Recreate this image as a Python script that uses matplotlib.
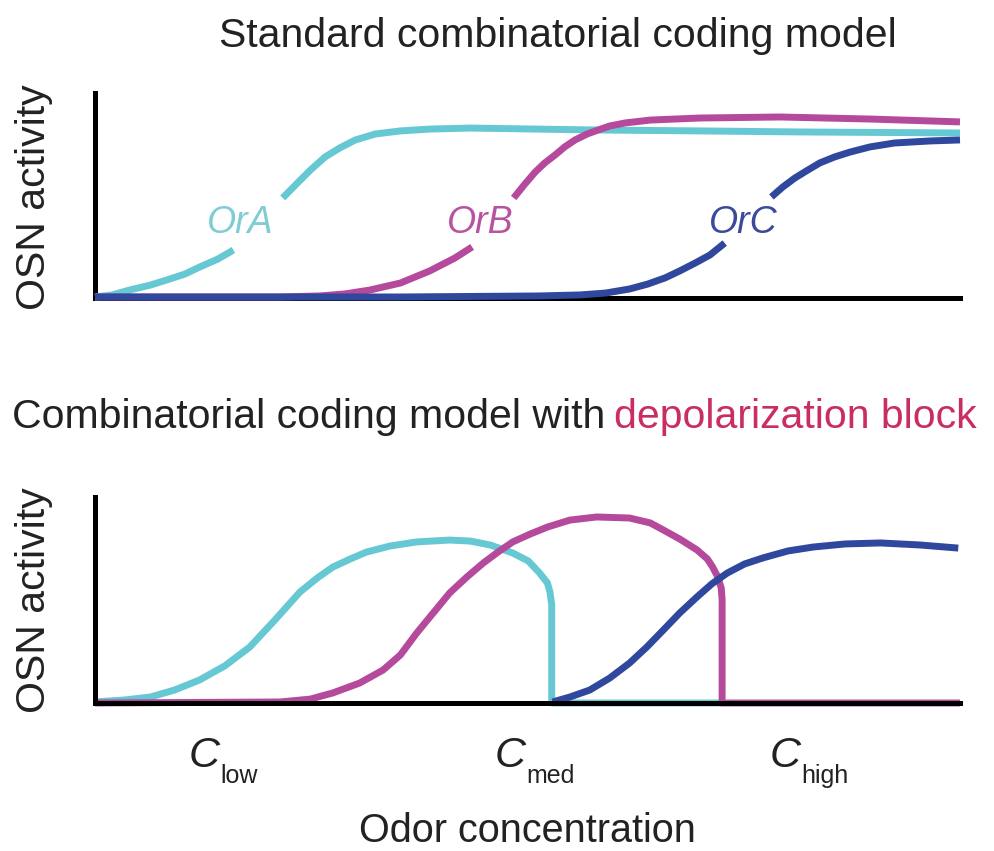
import matplotlib.pyplot as plt
import matplotlib.transforms as mtransforms
import numpy as np

plt.rcParams['font.family'] = ['Liberation Sans', 'DejaVu Sans']

# odor concentration runs 0..10, OSN activity 0..1
# nan = gap in the curve where the receptor label sits
# top panel, standard model
xa_top = [0, 0.20, 0.40, 0.64, 0.83, 1.04, 1.21, 1.42, 1.60, np.nan,
          2.17, 2.34, 2.49, 2.66, 2.83, 3.01, 3.24, 3.53, 3.87, 4.34, 5.72, 6.99, 8.15, 10.0]
ya_top = [0.005, 0.015, 0.039, 0.063, 0.088, 0.117, 0.151, 0.190, 0.234, np.nan,
          0.488, 0.561, 0.624, 0.688, 0.732, 0.771, 0.800, 0.815, 0.824, 0.829, 0.820, 0.815, 0.810, 0.805]

xb_top = [0, 2.14, 2.60, 2.89, 3.18, 3.53, 3.87, 4.16, 4.36, np.nan,
          4.84, 4.97, 5.09, 5.20, 5.32, 5.43, 5.55, 5.69, 5.82, 5.95, 6.13, 6.42, 6.99, 7.92, 8.96, 10.0]
yb_top = [0.005, 0.005, 0.010, 0.020, 0.039, 0.073, 0.132, 0.195, 0.249, np.nan,
          0.488, 0.556, 0.615, 0.659, 0.698, 0.737, 0.771, 0.800, 0.820, 0.839, 0.854, 0.868, 0.878, 0.883, 0.873, 0.859]

xc_top = [0, 3.53, 5.14, 5.61, 5.90, 6.18, 6.39, 6.59, 6.76, 6.94, 7.11, 7.28, np.nan,
          7.82, 7.95, 8.09, 8.24, 8.38, 8.55, 8.73, 8.96, 9.24, 9.65, 10.0]
yc_top = [0.005, 0.005, 0.010, 0.015, 0.024, 0.044, 0.068, 0.098, 0.132, 0.171, 0.210, 0.268, np.nan,
          0.493, 0.541, 0.585, 0.624, 0.659, 0.688, 0.712, 0.737, 0.756, 0.766, 0.771]

# bottom panel, with depolarization block
xa_bot = [0, 0.35, 0.64, 0.92, 1.21, 1.50, 1.79, 2.08, 2.37, 2.57, 2.75, 2.95, 3.14, 3.41, 3.72,
          4.10, 4.34, 4.57, 4.83, 5.01, 5.14, 5.23, 5.26, 5.28, 5.28, 7.25]
ya_bot = [0.005, 0.015, 0.029, 0.063, 0.112, 0.180, 0.272, 0.403, 0.539, 0.607, 0.660, 0.699, 0.733, 0.762, 0.782,
          0.791, 0.786, 0.767, 0.728, 0.689, 0.631, 0.583, 0.539, 0.476, 0.0, 0.0]

xb_bot = [0, 2.14, 2.49, 2.75, 3.06, 3.33, 3.53, 3.72, 3.91, 4.10, 4.30, 4.49, 4.66, 4.83, 5.03, 5.23,
          5.49, 5.80, 6.18, 6.42, 6.57, 6.76, 6.96, 7.08, 7.14, 7.20, 7.24, 7.25, 7.25, 10.0]
yb_bot = [0, 0.005, 0.019, 0.049, 0.097, 0.160, 0.233, 0.340, 0.437, 0.534, 0.612, 0.680, 0.733, 0.782, 0.820, 0.854,
          0.888, 0.903, 0.898, 0.874, 0.840, 0.796, 0.743, 0.699, 0.660, 0.612, 0.558, 0.500, 0.0, 0.0]

xc_bot = [5.29, 5.49, 5.72, 5.95, 6.18, 6.38, 6.57, 6.76, 6.96, 7.13, 7.31, 7.51, 7.72, 8.01, 8.30, 8.67, 9.08, 9.54, 9.98]
yc_bot = [0.005, 0.029, 0.063, 0.121, 0.194, 0.272, 0.354, 0.437, 0.515, 0.578, 0.631, 0.675, 0.704, 0.738, 0.757, 0.772, 0.777, 0.767, 0.752]

receptors = ['OrA', 'OrB', 'OrC']
label_x = [1.68, 4.45, 7.50]
label_y = 0.366

c_levels = ['low', 'med', 'high']
c_pos = [1.08, 4.62, 7.80]

cols = ['#66c8d3', '#b54a9d', '#30479e']
label_cols = ['#80ccd5', '#b7549e', '#3b4a9a']
pink = '#c92d62'

fig = plt.figure(figsize=(9.95, 8.51), dpi=100)
ax1 = fig.add_axes([95/995, 1-298/851, 865/995, 205/851])
ax2 = fig.add_axes([95/995, 1-703/851, 865/995, 206/851])

for ax in (ax1, ax2):
    ax.set_xlim(0, 10)
    ax.set_ylim(0, 1)
    ax.set_xticks([])
    ax.set_yticks([])
    for s in ('top', 'right'):
        ax.spines[s].set_visible(False)
    for s in ('left', 'bottom'):
        ax.spines[s].set_linewidth(3.6)
        ax.spines[s].set_capstyle('projecting')
        ax.spines[s].set_color('black')

# top: curves lie over the axis line
kw = dict(lw=5, solid_joinstyle='round', solid_capstyle='butt', clip_on=False, zorder=3)
ax1.plot(xa_top, ya_top, color=cols[0], **kw)
ax1.plot(xb_top, yb_top, color=cols[1], **kw)
ax1.plot(xc_top, yc_top, color=cols[2], **kw)
for name, lx, lc in zip(receptors, label_x, label_cols):
    ax1.text(lx, label_y, name, color=lc, fontsize=27, style='italic',
             ha='center', va='center')

# bottom: axis line drawn over the curves
kw2 = dict(lw=5, solid_joinstyle='round', solid_capstyle='butt', clip_on=False, zorder=2)
ax2.plot(xa_bot, ya_bot, color=cols[0], **kw2)
ax2.plot(xb_bot, yb_bot, color=cols[1], **kw2)
ax2.plot(xc_bot, yc_bot, color=cols[2], **kw2)

# titles
fig.text(558/995, 1-47/851, 'Standard combinatorial coding model', fontsize=29.5,
         ha='center', va='baseline', color='#222222')
t1 = fig.text(12/995, 1-428/851, 'Combinatorial coding model with', fontsize=29.5,
              ha='left', va='baseline', color='#222222')
fig.canvas.draw()
bb = t1.get_window_extent()
fig.text((bb.x1 + 9)/995, 1-428/851, 'depolarization block', fontsize=29.5,
         ha='left', va='baseline', color=pink)

# y labels
for yc in (197, 600):
    fig.text(34/995, 1-yc/851, 'OSN activity', fontsize=29.5, rotation=90,
             ha='center', va='center', color='#222222')

# concentration markers under the lower axis
trans = mtransforms.blended_transform_factory(ax2.transData, fig.transFigure)
for lev, cp in zip(c_levels, c_pos):
    ax2.text(cp, 1-767/851, 'C', transform=trans, fontsize=31, style='italic',
             ha='left', va='baseline', color='#222222')
    ax2.text(cp + 0.37, 1-783/851, lev, transform=trans, fontsize=18,
             ha='left', va='baseline', color='#222222')

fig.text(527/995, 1-842/851, 'Odor concentration', fontsize=28.5,
         ha='center', va='baseline', color='#222222')

fig.savefig('out.png', dpi=100)
